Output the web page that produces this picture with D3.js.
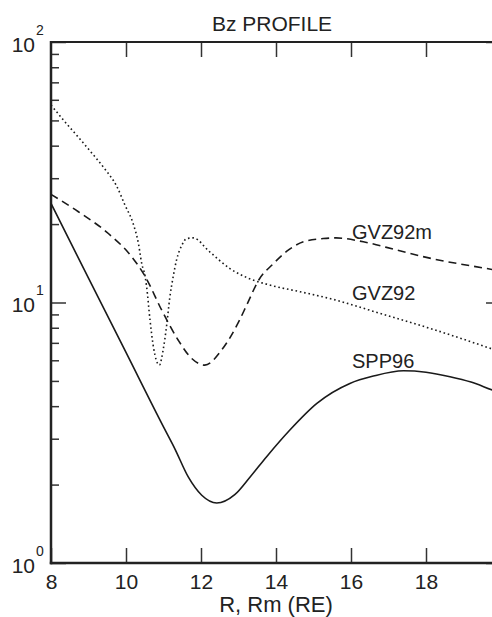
<!DOCTYPE html>
<html>
  <head>
    <script type="text/javascript" src="https://d3js.org/d3.v7.min.js"></script>
    <style>
      body { margin: 0; background: #fff; }
      text { font-family: "Liberation Sans", Arial, sans-serif; fill: #222; }
    </style>
  </head>
  <body>
  </body>
  <script>

  // SPP96 (solid)
  var sppR  = [8.0, 9.0, 10.0, 11.0, 11.3, 11.66, 12.02, 12.42, 12.9, 13.31, 13.75, 14.37, 15.09, 15.97, 16.6, 17.4, 18.0, 18.64, 19.2, 19.8, 20.0];
  var sppBz = [24.0, 12.4, 6.43, 3.33, 2.75, 2.14, 1.82, 1.70, 1.83, 2.14, 2.56, 3.24, 4.10, 4.89, 5.22, 5.47, 5.40, 5.19, 4.95, 4.60, 4.50];

  // GVZ92m (dashed)
  var gvzmR  = [8.0, 8.73, 9.53, 10.15, 10.51, 10.95, 11.39, 11.75, 12.1, 12.55, 13.0, 13.24, 13.54, 13.93, 14.28, 14.73, 15.26, 15.6, 16.33, 17.22, 18.1, 19.62, 20.0];
  var gvzmBz = [26.0, 22.3, 18.4, 15.0, 12.6, 9.36, 7.18, 6.1, 5.75, 6.57, 8.4, 9.93, 12.2, 14.1, 15.7, 17.1, 17.6, 17.7, 17.1, 15.9, 14.8, 13.5, 13.2];

  // GVZ92 (dotted)
  var gvzR  = [8.0, 8.37, 8.73, 9.08, 9.44, 9.75, 9.97, 10.19, 10.33, 10.42, 10.51, 10.55, 10.64, 10.73, 10.89, 10.99, 11.08, 11.17, 11.26, 11.35, 11.49, 11.62, 11.8, 12.2, 12.77, 13.26, 13.8, 14.64, 15.5, 16.77, 18.1, 19.71, 20.0];
  var gvzBz = [57.3, 49.4, 43.1, 37.6, 32.5, 28.0, 23.7, 20.1, 16.9, 14.1, 12.6, 11.5, 8.57, 6.77, 5.75, 6.57, 8.08, 10.5, 12.6, 14.6, 16.6, 17.6, 17.7, 15.8, 13.5, 12.4, 11.7, 11.0, 10.3, 9.09, 7.96, 6.67, 6.45];

  var xTicks = [8, 10, 12, 14, 16, 18];
  var yMajor = [1, 10, 100];
  var yExp   = ["0", "1", "2"];
  var yMinor = [2, 3, 4, 5, 6, 7, 8, 9, 20, 30, 40, 50, 60, 70, 80, 90];

  var seriesNames = ["GVZ92m", "GVZ92", "SPP96"];

  var mLeft = 51, mRight = 501, mTop = 42, mBottom = 563;

  var svg = d3.select("body").append("svg")
              .attr("width", 492)
              .attr("height", 617);

  var x = d3.scaleLinear().domain([8, 20]).range([mLeft, mRight]);
  var y = d3.scaleLog().domain([1, 100]).range([mBottom, mTop]);

  svg.append("defs").append("clipPath").attr("id", "clip")
     .append("rect").attr("x", mLeft).attr("y", mTop)
     .attr("width", mRight - mLeft).attr("height", mBottom - mTop);

  function styleAxis(g) {
    g.select(".domain").remove();
    g.selectAll(".tick line").attr("stroke", "#333").attr("stroke-width", 1.5);
  }

  // bottom axis: ticks pointing up, labels below
  svg.append("g").attr("transform", "translate(0," + mBottom + ")")
     .call(d3.axisBottom(x).tickValues(xTicks).tickSizeInner(-15).tickSizeOuter(0).tickPadding(11)
           .tickFormat(d3.format("d")))
     .call(styleAxis)
     .selectAll("text").style("font-size", "21px").attr("fill", "#222")
     .style("font-family", "Liberation Sans, Arial, sans-serif");

  // top axis: ticks pointing down
  svg.append("g").attr("transform", "translate(0," + mTop + ")")
     .call(d3.axisTop(x).tickValues(xTicks.slice(1)).tickSizeInner(-15).tickSizeOuter(0).tickFormat(""))
     .call(styleAxis);

  // left axis majors and minors
  svg.append("g").attr("transform", "translate(" + mLeft + ",0)")
     .call(d3.axisLeft(y).tickValues(yMajor).tickSizeInner(-15).tickSizeOuter(0).tickFormat(""))
     .call(styleAxis);
  svg.append("g").attr("transform", "translate(" + mLeft + ",0)")
     .call(d3.axisLeft(y).tickValues(yMinor).tickSizeInner(-8).tickSizeOuter(0).tickFormat(""))
     .call(styleAxis);

  // right axis majors and minors
  svg.append("g").attr("transform", "translate(" + mRight + ",0)")
     .call(d3.axisRight(y).tickValues(yMajor).tickSizeInner(-15).tickSizeOuter(0).tickFormat(""))
     .call(styleAxis);
  svg.append("g").attr("transform", "translate(" + mRight + ",0)")
     .call(d3.axisRight(y).tickValues(yMinor).tickSizeInner(-8).tickSizeOuter(0).tickFormat(""))
     .call(styleAxis);

  // frame
  svg.append("line").attr("x1", mLeft).attr("x2", mLeft).attr("y1", mTop - 1).attr("y2", mBottom + 1.2)
     .attr("stroke", "#222").attr("stroke-width", 2.5);
  svg.append("line").attr("x1", mLeft - 1.2).attr("x2", mRight).attr("y1", mBottom).attr("y2", mBottom)
     .attr("stroke", "#222").attr("stroke-width", 2.5);
  svg.append("line").attr("x1", mLeft).attr("x2", mRight).attr("y1", mTop).attr("y2", mTop)
     .attr("stroke", "#222").attr("stroke-width", 2);
  svg.append("line").attr("x1", mRight).attr("x2", mRight).attr("y1", mTop).attr("y2", mBottom)
     .attr("stroke", "#222").attr("stroke-width", 2);

  // y labels 10^n
  var yl = svg.append("g").selectAll("g").data(yMajor).enter().append("g");
  yl.append("text")
    .attr("x", 35).attr("y", function(d) { return y(d) + 9.5; })
    .attr("text-anchor", "end").style("font-size", "21px")
    .text("10");
  yl.append("text")
    .attr("x", 36).attr("y", function(d) { return y(d) - 7.5; })
    .style("font-size", "14px")
    .text(function(d, i) { return yExp[i]; });

  // titles
  svg.append("text").attr("x", 272).attr("y", 31).attr("text-anchor", "middle")
     .style("font-size", "21px").text("Bz PROFILE");
  svg.append("text").attr("x", 276).attr("y", 612).attr("text-anchor", "middle")
     .style("font-size", "22px").text("R, Rm (RE)");

  // curves
  var line = d3.line()
               .x(function(d) { return x(d[0]); })
               .y(function(d) { return y(d[1]); })
               .curve(d3.curveMonotoneX);

  var plot = svg.append("g").attr("clip-path", "url(#clip)");

  plot.append("path").datum(d3.zip(sppR, sppBz))
      .attr("d", line).attr("fill", "none")
      .attr("stroke", "#1a1a1a").attr("stroke-width", 1.6);

  plot.append("path").datum(d3.zip(gvzmR, gvzmBz))
      .attr("d", line).attr("fill", "none")
      .attr("stroke", "#1a1a1a").attr("stroke-width", 1.6)
      .attr("stroke-dasharray", "8,5");

  plot.append("path").datum(d3.zip(gvzR, gvzBz))
      .attr("d", line).attr("fill", "none")
      .attr("stroke", "#1a1a1a").attr("stroke-width", 1.6)
      .attr("stroke-dasharray", "1.6,2.8");

  // series labels
  var labelY = [239, 300, 368];
  svg.append("g").selectAll("text").data(seriesNames).enter().append("text")
     .attr("x", 352).attr("y", function(d, i) { return labelY[i]; })
     .style("font-size", "20px")
     .text(function(d) { return d; });

  </script>
</html>
